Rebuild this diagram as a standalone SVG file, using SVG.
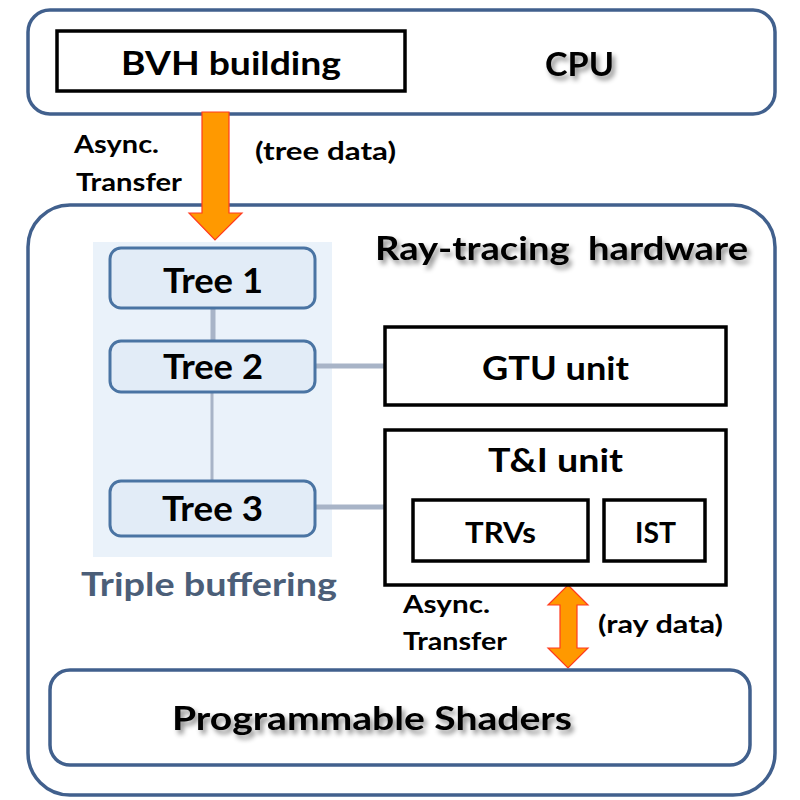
<svg xmlns="http://www.w3.org/2000/svg" width="800" height="800" viewBox="0 0 800 800">
<defs>
<filter id="sh" x="-10%" y="-30%" width="130%" height="180%">
<feDropShadow dx="3" dy="4" stdDeviation="2.5" flood-color="#000" flood-opacity="0.45"/>
</filter>
</defs>
<style>
.t{font-family:Lato,"Open Sans","Liberation Sans",sans-serif;font-weight:bold;fill:#000}
.outer{fill:#fff;stroke:#41608d;stroke-width:3.5}
.blk{fill:#fff;stroke:#000;stroke-width:3.5}
.tree{fill:#e2ecf7;stroke:#4a74a3;stroke-width:3}
.conn{stroke:#a8b4c7;fill:none}
.arr{fill:#ff9900;stroke:#ff3b1f;stroke-width:1.2}
</style>
<rect width="800" height="800" fill="#fff"/>

<g id="cpu">
<rect class="outer" x="28" y="10" width="747" height="104" rx="22"/>
<text class="t" x="545" y="76" font-size="33" textLength="69" lengthAdjust="spacingAndGlyphs" filter="url(#sh)">CPU</text>
</g>
<g id="bvh">
<rect class="blk" x="57" y="31" width="348" height="60"/>
<text class="t" x="121" y="75" font-size="33" textLength="220" lengthAdjust="spacingAndGlyphs">BVH building</text>
</g>

<g id="rt">
<rect class="outer" x="28" y="205" width="747" height="590" rx="42"/>
<text class="t" x="375" y="260" font-size="33" textLength="373" lengthAdjust="spacingAndGlyphs" filter="url(#sh)" xml:space="preserve">Ray-tracing  hardware</text>
</g>

<g id="buffer">
<rect x="93" y="242" width="239" height="315" fill="#eaf2fa"/>
<text x="81" y="596" font-size="32" textLength="256" lengthAdjust="spacingAndGlyphs" font-family="Lato,'Open Sans','Liberation Sans',sans-serif" font-weight="bold" fill="#4b5e78">Triple buffering</text>
</g>

<g id="connectors">
<line class="conn" x1="213" y1="308" x2="213" y2="342" stroke-width="5"/>
<line class="conn" x1="212" y1="392" x2="212" y2="481" stroke-width="3"/>
<line class="conn" x1="316" y1="366" x2="386" y2="366" stroke-width="5"/>
<line class="conn" x1="316" y1="507" x2="386" y2="507" stroke-width="5"/>
<polygon class="arr" points="202,112 229,112 229,213 242,213 215,240 189,213 202,213"/>
<polygon class="arr" points="568,585 588,605 577,605 577,648 588,648 568,668 548,648 560,648 560,605 548,605"/>
</g>

<g id="tree1">
<rect class="tree" x="110" y="248" width="205" height="60" rx="11"/>
<text class="t" x="163" y="293" font-size="35" textLength="100" lengthAdjust="spacingAndGlyphs">Tree 1</text>
</g>
<g id="tree2">
<rect class="tree" x="110" y="341" width="205" height="51" rx="11"/>
<text class="t" x="163" y="379" font-size="35" textLength="100" lengthAdjust="spacingAndGlyphs">Tree 2</text>
</g>
<g id="tree3">
<rect class="tree" x="110" y="481" width="205" height="55" rx="11"/>
<text class="t" x="162" y="521" font-size="35" textLength="101" lengthAdjust="spacingAndGlyphs">Tree 3</text>
</g>

<g id="gtu">
<rect class="blk" x="385" y="327" width="341" height="78"/>
<text class="t" x="482" y="380" font-size="32" textLength="147" lengthAdjust="spacingAndGlyphs">GTU unit</text>
</g>
<g id="ti">
<rect class="blk" x="385" y="430" width="341" height="155"/>
<text class="t" x="488" y="472" font-size="32" textLength="135" lengthAdjust="spacingAndGlyphs">T&amp;I unit</text>
</g>
<g id="trvs">
<rect class="blk" x="413" y="500" width="175" height="61"/>
<text class="t" x="465" y="543" font-size="29" textLength="71" lengthAdjust="spacingAndGlyphs">TRVs</text>
</g>
<g id="ist">
<rect class="blk" x="604" y="500" width="101" height="61"/>
<text class="t" x="635" y="543" font-size="29" textLength="41" lengthAdjust="spacingAndGlyphs">IST</text>
</g>

<g id="labels">
<text class="t" x="74" y="153" font-size="25" textLength="85" lengthAdjust="spacingAndGlyphs">Async.</text>
<text class="t" x="76" y="191" font-size="25" textLength="106" lengthAdjust="spacingAndGlyphs">Transfer</text>
<text class="t" x="255" y="160" font-size="25" textLength="141" lengthAdjust="spacingAndGlyphs">(tree data)</text>
<text class="t" x="403" y="613" font-size="25" textLength="87" lengthAdjust="spacingAndGlyphs">Async.</text>
<text class="t" x="403" y="650" font-size="25" textLength="104" lengthAdjust="spacingAndGlyphs">Transfer</text>
<text class="t" x="598" y="633" font-size="25" textLength="125" lengthAdjust="spacingAndGlyphs">(ray data)</text>
</g>

<g id="shaders">
<rect class="outer" x="50" y="670" width="700" height="95" rx="20"/>
<text class="t" x="172" y="730" font-size="33" textLength="400" lengthAdjust="spacingAndGlyphs" filter="url(#sh)">Programmable Shaders</text>
</g>
</svg>
